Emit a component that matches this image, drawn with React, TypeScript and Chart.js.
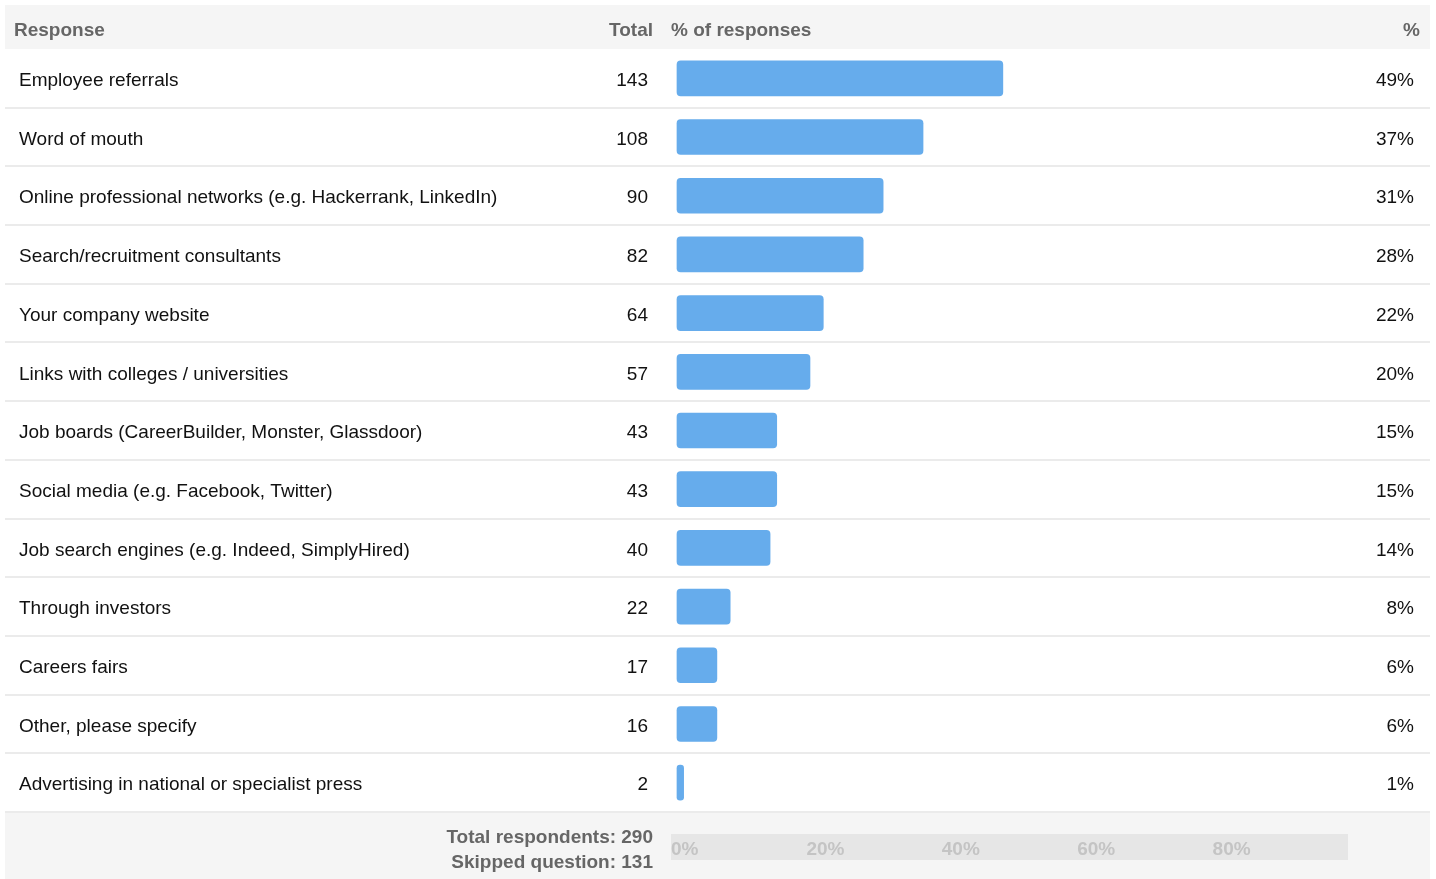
import { useEffect, useRef } from "react";
import { Chart, registerables } from "chart.js";

Chart.register(...registerables);

const categories = [
  "Employee referrals",
  "Word of mouth",
  "Online professional networks (e.g. Hackerrank, LinkedIn)",
  "Search/recruitment consultants",
  "Your company website",
  "Links with colleges / universities",
  "Job boards (CareerBuilder, Monster, Glassdoor)",
  "Social media (e.g. Facebook, Twitter)",
  "Job search engines (e.g. Indeed, SimplyHired)",
  "Through investors",
  "Careers fairs",
  "Other, please specify",
  "Advertising in national or specialist press",
];
const totals = [143, 108, 90, 82, 64, 57, 43, 43, 40, 22, 17, 16, 2];
const percentages = [49, 37, 31, 28, 22, 20, 15, 15, 14, 8, 6, 6, 1];
const axisTicks = [0, 20, 40, 60, 80];
const headers = ["Response", "Total", "% of responses", "%"];
const footerLines = ["Total respondents: 290", "Skipped question: 131"];

const FONT = "'Liberation Sans', Arial, Helvetica, sans-serif";
const W = 1436;
const H = 879;

export default function App() {
  const ref = useRef<HTMLCanvasElement | null>(null);

  useEffect(() => {
    document.body.style.margin = "0";
    const canvas = ref.current;
    if (!canvas) return;

    const tablePlugin = {
      id: "tablePlugin",
      beforeDraw(chart: any) {
        const ctx = chart.ctx as CanvasRenderingContext2D;
        const area = chart.chartArea;
        const y = chart.scales.y;
        const rowH = y.getPixelForValue(1) - y.getPixelForValue(0);
        ctx.save();
        ctx.fillStyle = "#ffffff";
        ctx.fillRect(0, 0, W, H);
        // header background
        ctx.fillStyle = "#f5f5f5";
        ctx.fillRect(5, 5, 1425, area.top - 5);
        // footer background
        ctx.fillRect(5, area.bottom, 1425, H - area.bottom);
        // footer band
        ctx.fillStyle = "#e6e6e6";
        ctx.fillRect(area.left, area.bottom + 22, area.right - area.left, 26);
        // separators
        ctx.strokeStyle = "#ebebeb";
        ctx.lineWidth = 2;
        for (let i = 0; i < categories.length; i++) {
          const yy = Math.round(y.getPixelForValue(i) + rowH / 2);
          ctx.beginPath();
          ctx.moveTo(5, yy);
          ctx.lineTo(1430, yy);
          ctx.stroke();
        }
        ctx.restore();
      },
      afterDraw(chart: any) {
        const ctx = chart.ctx as CanvasRenderingContext2D;
        const area = chart.chartArea;
        const y = chart.scales.y;
        ctx.save();
        ctx.textBaseline = "middle";
        // header
        const hy = (5 + area.top) / 2 + 4;
        ctx.fillStyle = "#666666";
        ctx.font = `bold 19px ${FONT}`;
        ctx.textAlign = "left";
        ctx.fillText(headers[0], 14, hy);
        ctx.textAlign = "right";
        ctx.fillText(headers[1], 653, hy);
        ctx.textAlign = "left";
        ctx.fillText(headers[2], area.left, hy);
        ctx.textAlign = "right";
        ctx.fillText(headers[3], 1420, hy);
        // rows
        ctx.fillStyle = "#111111";
        ctx.font = `19px ${FONT}`;
        categories.forEach((c, i) => {
          const py = y.getPixelForValue(i) + 2.5;
          ctx.textAlign = "left";
          ctx.fillText(c, 19, py);
          ctx.textAlign = "right";
          ctx.fillText(String(totals[i]), 648, py);
          ctx.fillText(`${percentages[i]}%`, 1414, py);
        });
        // footer
        ctx.fillStyle = "#666666";
        ctx.font = `bold 19px ${FONT}`;
        ctx.textAlign = "right";
        ctx.fillText(footerLines[0], 653, area.bottom + 26);
        ctx.fillText(footerLines[1], 653, area.bottom + 51);
        ctx.restore();
      },
    };

    const chart = new Chart(canvas, {
      type: "bar",
      data: {
        labels: categories,
        datasets: [
          {
            data: percentages,
            xAxisID: "xb",
            yAxisID: "y",
            backgroundColor: "#66acec",
            borderRadius: 4,
            borderSkipped: false,
            barThickness: 35,
            minBarLength: 5,
          },
        ],
      },
      options: {
        indexAxis: "y",
        responsive: false,
        animation: false,
        layout: { padding: { left: 671, right: 88, top: 49, bottom: 0 } },
        plugins: {
          legend: { display: false },
          tooltip: { enabled: false },
        },
        scales: {
          y: { type: "category", display: false, offset: true },
          xb: { type: "linear", display: false, min: -0.9, max: 100.9 },
          x: {
            type: "linear",
            position: "bottom",
            min: 0,
            max: 100,
            grid: { display: false },
            border: { display: false },
            afterBuildTicks: (s: any) => {
              s.ticks = axisTicks.map((v) => ({ value: v }));
            },
            afterFit: (s: any) => {
              s.height = 67;
            },
            ticks: {
              align: "start",
              padding: 18,
              color: "#c4c4c4",
              font: { family: FONT, size: 19, weight: "bold" },
              callback: (v: any) => `${v}%`,
            },
          },
        },
      },
      plugins: [tablePlugin],
    } as any);

    return () => chart.destroy();
  }, []);

  return <canvas ref={ref} width={W} height={H} style={{ display: "block", width: W, height: H }} />;
}
